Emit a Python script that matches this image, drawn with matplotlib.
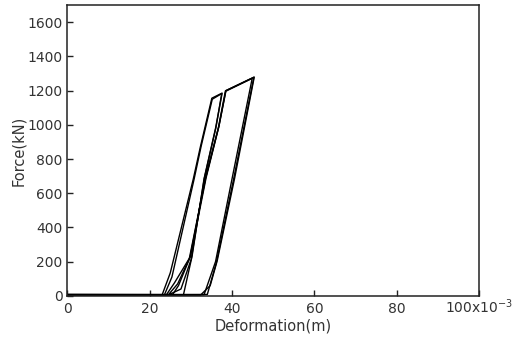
import numpy as np
import matplotlib.pyplot as plt

# deformation in x10^-3 m, force in kN
cyc1_x = [0, 23.0, 25.0, 30.6, 32.3, 35.1, 37.6, 36.0, 33.2, 30.3, 28.2, 25.5, 0]
cyc1_f = [2, 4, 134, 684, 870, 1156, 1186, 980, 684, 232, 6, 5, 4]

cyc2_x = [0, 25.5, 27.0, 29.8, 33.5, 36.7, 38.4, 45.3, 40.4, 36.2, 34.0, 0]
cyc2_f = [6, 5, 60, 225, 684, 985, 1199, 1278, 684, 195, 8, 7]

cyc3_x = [0, 23.6, 25.4, 30.8, 32.5, 35.2, 37.5, 36.1, 33.3, 30.1, 27.6, 24.5, 26.8, 29.6,
          33.6, 36.8, 38.5, 44.9, 40.0, 36.0, 33.2, 0]
cyc3_f = [9, 7, 110, 684, 875, 1150, 1183, 985, 690, 215, 40, 5, 70, 215,
          690, 990, 1197, 1272, 684, 200, 6, 5]

cyc4_x = [0, 24.0, 26.0, 29.9, 33.7, 36.8, 38.5, 45.4, 40.6, 36.4, 34.7, 32.3, 0]
cyc4_f = [3, 4, 75, 230, 690, 990, 1200, 1280, 684, 205, 60, 3, 2]

xticks = [0, 20, 40, 60, 80, 100]
xlabels = ['0', '20', '40', '60', '80', '100x10$^{-3}$']

fig = plt.figure(figsize=(5.14, 3.46), dpi=100)
ax = fig.add_axes([0.131, 0.145, 0.801, 0.840])

for xs, fs in [(cyc1_x, cyc1_f), (cyc2_x, cyc2_f), (cyc3_x, cyc3_f), (cyc4_x, cyc4_f)]:
    ax.plot(xs, fs, color='black', linewidth=1.0)

ax.set_xlim(0, 100)
ax.set_ylim(0, 1700)
ax.set_xticks(xticks)
ax.set_xticklabels(xlabels)
ax.set_yticks(np.arange(0, 1601, 200))
ax.tick_params(direction='in', length=4, width=1, labelsize=10, colors='#222222', labelcolor='#333333')
ax.tick_params(axis='x', pad=12.5)
for lab in ax.get_xticklabels():
    lab.set_verticalalignment('baseline')
for s in ax.spines.values():
    s.set_linewidth(1.1)
    s.set_color('#222222')

ax.set_xlabel('Deformation(m)', fontsize=10.5, color='#333333', labelpad=2)
ax.set_ylabel('Force(kN)', fontsize=10.5, color='#333333', labelpad=1)

fig.savefig('out.png', dpi=100)
